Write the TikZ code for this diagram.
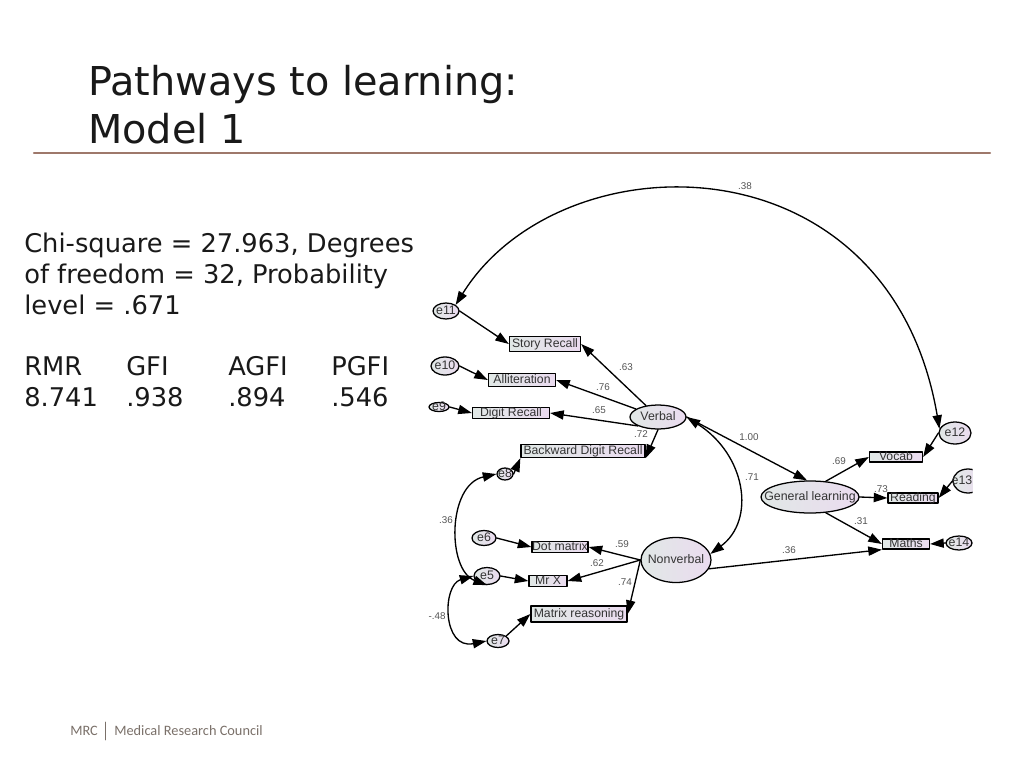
\documentclass[tikz,border=0pt]{standalone}
\usepackage{fontspec}
\setmainfont{DejaVu Sans}
\newfontfamily\diagfont{Liberation Sans}
\newfontfamily\logofont{Carlito}
\usetikzlibrary{arrows.meta}
\usetikzlibrary{shapes.geometric}
\definecolor{rulebrown}{rgb}{0.62,0.47,0.42}
\definecolor{logogrey}{rgb}{0.48,0.44,0.41}
\definecolor{labelgrey}{rgb}{0.33,0.33,0.33}
\definecolor{shadegreen}{rgb}{0.88,0.91,0.90}
\definecolor{shadepink}{rgb}{0.92,0.86,0.94}
\newcommand{\tightlabel}[1]{\raisebox{-0.6ex}[0pt][0pt]{\makebox[0pt]{#1}}}
\begin{document}
\begin{tikzpicture}[line cap=round,line join=round,>={Triangle[length=3.4mm,width=2.3mm]},x=0.025cm,y=-0.025cm,
  latent/.style 2 args={draw,ellipse,line width=0.9pt,left color=shadegreen,right color=shadepink,text=black!80,inner sep=0pt,font=\diagfont\fontsize{8.8}{10}\selectfont,minimum width=#1*0.025cm,minimum height=#2*0.025cm},
  measure/.style 2 args={draw,rectangle,line width=0.9pt,left color=shadegreen,right color=shadepink,text=black!80,inner sep=0pt,font=\diagfont\fontsize{8.7}{10}\selectfont,minimum width=#1*0.025cm,minimum height=#2*0.025cm},
  pathway/.style={draw,line width=0.95pt,->},
  twoway/.style={draw,line width=0.95pt,<->},
  coef/.style={text=labelgrey,inner sep=0pt,font=\diagfont\fontsize{7}{8}\selectfont},
  bodytext/.style={anchor=base west,inner sep=0pt,font=\fontsize{18.3}{20}\selectfont,text=black!90},
  headtext/.style={anchor=base west,inner sep=0pt,font=\fontsize{28.3}{32}\selectfont,text=black!90}]
\useasboundingbox (0,0) rectangle (1024,768);
\node[headtext] (title1) at (88,96) {Pathways to learning:};
\node[headtext] (title2) at (88,144) {Model 1};
\coordinate (ruleL) at (34,153);
\coordinate (ruleR) at (990,153);
\draw [rulebrown,line width=1.6pt] (ruleL) -- (ruleR);
\node[bodytext] (fit1) at (24,252) {Chi-square = 27.963, Degrees};
\node[bodytext] (fit2) at (24,283) {of freedom = 32, Probability};
\node[bodytext] (fit3) at (24,314) {level = .671};
\node[bodytext] (rmr) at (24,375) {RMR};
\node[bodytext] (gfi) at (126,375) {GFI};
\node[bodytext] (agfi) at (228,375) {AGFI};
\node[bodytext] (pgfi) at (331,375) {PGFI};
\node[bodytext] (rmrval) at (24,406) {8.741};
\node[bodytext] (gfival) at (126,406) {.938};
\node[bodytext] (agfival) at (228,406) {.894};
\node[bodytext] (pgfival) at (331,406) {.546};
\node[latent={56}{24}] (verbal) at (658,417) {\tightlabel{Verbal}};
\node[latent={70}{45}] (nonverbal) at (676,560) {\tightlabel{Nonverbal}};
\node[latent={98}{32}] (general) at (810,497) {\tightlabel{General learning}};
\node[measure={71}{15}] (story) at (545,344) {\tightlabel{Story Recall}};
\node[measure={67}{13}] (allit) at (522,380) {\tightlabel{Alliteration}};
\node[measure={77}{11}] (digit) at (511,413) {\tightlabel{Digit Recall}};
\node[measure={124}{13}] (backward) at (583,451) {\tightlabel{Backward Digit Recall}};
\node[measure={56}{11}] (dot) at (560,547) {\tightlabel{Dot matrix}};
\node[measure={38}{11}] (mrx) at (548,581) {\tightlabel{Mr X}};
\node[measure={96}{16}] (matrix) at (579,614) {\tightlabel{Matrix reasoning}};
\node[measure={53}{10}] (vocab) at (896,457) {\tightlabel{Vocab}};
\node[measure={50}{10}] (reading) at (913,498) {\tightlabel{Reading}};
\node[measure={47}{10}] (maths) at (906,544) {\tightlabel{Maths}};
\node[latent={26}{16}] (e11) at (446,311) {\tightlabel{e11}};
\node[latent={28}{18}] (e10) at (445,366) {\tightlabel{e10}};
\node[latent={20}{9}] (e9) at (439,407) {\tightlabel{e9}};
\node[latent={16}{12}] (e8) at (505,474) {\tightlabel{e8}};
\node[latent={24}{15}] (e6) at (484,538) {\tightlabel{e6}};
\node[latent={26}{17}] (e5) at (487,576) {\tightlabel{e5}};
\node[latent={22}{13}] (e7) at (498,641) {\tightlabel{e7}};
\node[latent={32}{22}] (e12) at (955,433) {\tightlabel{e12}};
\begin{scope}
\clip (940,460) rectangle (972.5,505);
\node[latent={30}{24}] (e13) at (968,481) {\tightlabel{\hspace*{-8.5pt}e13}};
\end{scope}
\node[latent={26}{14}] (e14) at (959,543) {\tightlabel{e14}};
\draw [pathway] (verbal) -- (story.east);
\draw [pathway] (verbal) -- (allit.east);
\draw [pathway] (verbal.south west) -- (digit.east);
\draw [pathway] (verbal.south) -- (backward.south east);
\draw [pathway] (verbal.east) -- (general.100);
\draw [twoway] (verbal.east) .. controls (746,455) and (756,520) .. (nonverbal.10);
\draw [pathway] (nonverbal.west) -- (dot.east);
\draw [pathway] (nonverbal.west) -- (mrx.east);
\draw [pathway] (nonverbal.west) -- (matrix.east);
\draw [pathway] (nonverbal.345) -- (maths.south west);
\draw [pathway] (general.45) -- (vocab.west);
\draw [pathway] (general.east) -- (reading.west);
\draw [pathway] (general.-45) -- (maths.west);
\draw [pathway] (e11.east) -- (story.west);
\draw [pathway] (e10.east) -- (allit.west);
\draw [pathway] (e9.east) -- (digit.west);
\draw [pathway] (e8.east) -- (backward.south west);
\draw [pathway] (e6.east) -- (dot.west);
\draw [pathway] (e5.east) -- (mrx.west);
\draw [pathway] (e7.north east) -- (matrix.west);
\draw [pathway] (e12.west) -- (vocab.east);
\draw [pathway] (e13.west) -- (reading.east);
\draw [pathway] (e14.west) -- (maths.east);
\draw [twoway] (e11.north east) .. controls (560,137) and (889,133) .. (e12.165);
\draw [twoway] (e8.west) .. controls (447,485) and (447,570) .. (e5.south);
\draw [twoway] (e5.west) .. controls (442,585) and (442,650) .. (e7.west);
\node[coef] (c38) at (745,186) {.38};
\node[coef] (c63) at (626,367) {.63};
\node[coef] (c76) at (603,387) {.76};
\node[coef] (c65) at (599,410) {.65};
\node[coef] (c72) at (641,434) {.72};
\node[coef] (c59) at (622,544) {.59};
\node[coef] (c62) at (597,563) {.62};
\node[coef] (c74) at (625,582) {.74};
\node[coef] (c100) at (749,437) {1.00};
\node[coef] (c71) at (752,477) {.71};
\node[coef] (c69) at (839,461) {.69};
\node[coef] (c73) at (881,489) {.73};
\node[coef] (c31) at (861,521) {.31};
\node[coef] (c36b) at (789,550) {.36};
\node[coef] (c36a) at (446,520) {.36};
\node[coef] (c48) at (437,616) {-.48};
\node[anchor=base west,inner sep=0pt,text=logogrey,font=\logofont\fontsize{10.2}{12}\selectfont] (mrc) at (70,735) {MRC};
\node[anchor=base west,inner sep=0pt,text=logogrey,font=\logofont\fontsize{10.2}{12}\selectfont] (council) at (114,735) {Medical Research Council};
\coordinate (barT) at (105,722);
\coordinate (barB) at (105,740);
\draw [logogrey,line width=0.6pt] (barT) -- (barB);
\end{tikzpicture}
\end{document}
